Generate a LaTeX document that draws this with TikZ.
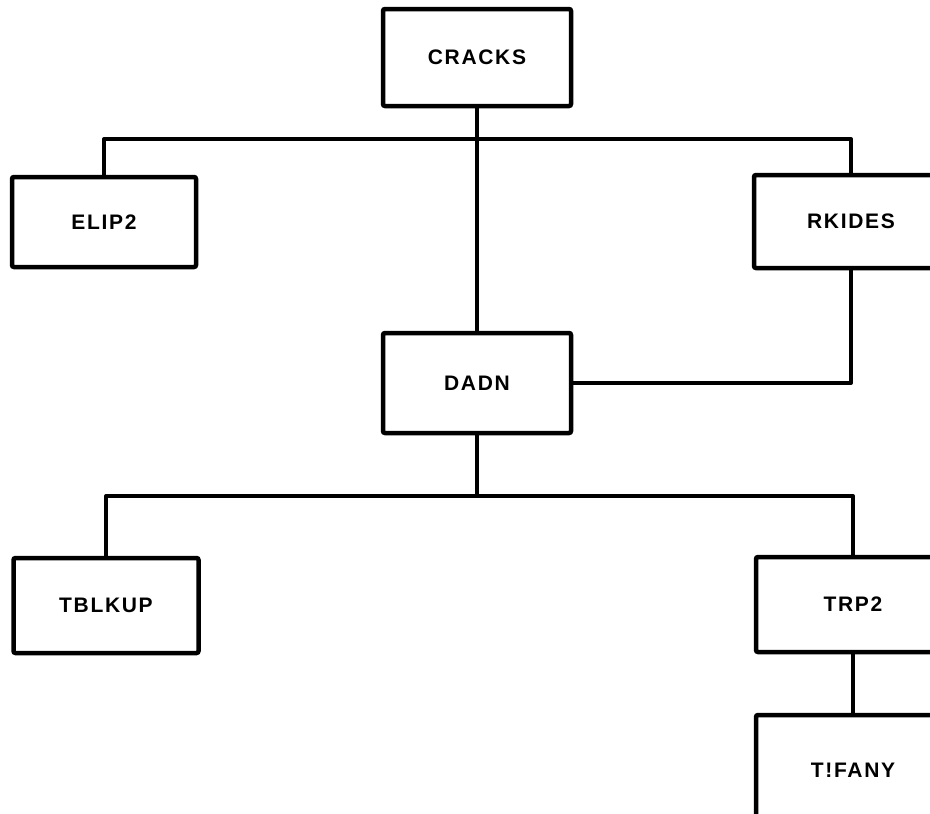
\documentclass[tikz,border=0pt]{standalone}
\usepackage{fontspec}
\setmainfont{Liberation Sans}
\newfontfamily\boxfont[LetterSpace=8]{Liberation Sans}
\begin{document}
\begin{tikzpicture}[x=1pt,y=-1pt,
  modbox/.style={draw, line width=4.5pt, rounded corners=2pt, fill=white,
    inner sep=0pt, font=\boxfont\bfseries\fontsize{21}{21}\selectfont},
  link/.style={line width=4pt, line join=round}]
\useasboundingbox (0,0) rectangle (930,814);
\clip (0,0) rectangle (930,814);
\coordinate (b1) at (477,139);
\coordinate (b2) at (477,496);
\node[modbox, minimum width=188pt, minimum height=97pt] (cracks) at (477,57.5) {CRACKS};
\node[modbox, minimum width=184pt, minimum height=90pt] (elip2) at (104,222) {ELIP2};
\node[modbox, minimum width=194pt, minimum height=93pt] (rkides) at (851,221.5) {RKIDES};
\node[modbox, minimum width=188pt, minimum height=100pt] (dadn) at (477,383) {DADN};
\node[modbox, minimum width=185pt, minimum height=95pt] (tblkup) at (106,605.5) {TBLKUP};
\node[modbox, minimum width=194pt, minimum height=95pt] (trp2) at (853,604.5) {TRP2};
\node[modbox, minimum width=194pt, minimum height=110pt] (tifany) at (853,770) {T!FANY};
\draw[link] (cracks.south) -- (dadn.north);
\draw[link] (elip2.north) |- (b1) -| (rkides.north);
\draw[link] (rkides.south) |- (dadn.east);
\draw[link] (dadn.south) -- (b2);
\draw[link] (tblkup.north) |- (b2) -| (trp2.north);
\draw[link] (trp2.south) -- (tifany.north);
\end{tikzpicture}
\end{document}
